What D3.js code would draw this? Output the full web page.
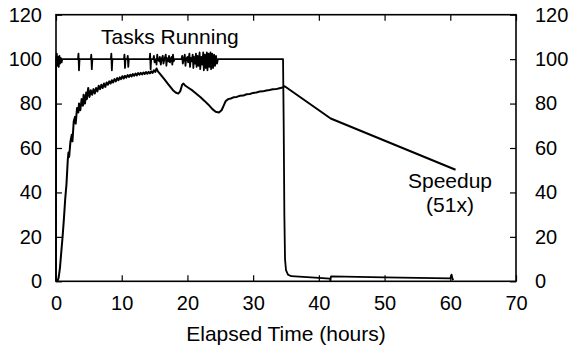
<!DOCTYPE html>
<html><head><meta charset="utf-8">
<script src="https://cdn.jsdelivr.net/npm/d3@7"></script>
<style>
body{margin:0;background:#fff;}
text{font-family:"Liberation Sans",Arial,Helvetica,sans-serif;fill:#000;}
</style></head>
<body><svg id="c" width="571" height="348"></svg>
<script>
const xTicks = [0,10,20,30,40,50,60,70];
const yTicks = [0,20,40,60,80,100,120];
const xLabel = "Elapsed Time (hours)";
const tasksLabel = "Tasks Running";
const speedupLabel = ["Speedup","(51x)"];

// Tasks running: [hours, tasks]
const tasksRunning = [
[0,0],[0.02,100],[0.12,102.5],[0.22,97],[0.32,101],[0.42,96.5],[0.52,101.5],[0.62,98],[0.75,100.5],[0.85,98.5],[0.95,100],
[3.35,100],[3.42,102.5],[3.5,95],[3.58,100],
[5.3,100],[5.37,102],[5.45,95.5],[5.53,100],
[8.35,100],[8.42,102.5],[8.5,95],[8.58,100],
[10.35,100],[10.42,102],[10.5,96],[10.58,100],[10.85,100],[10.92,101.5],[11.0,96.5],[11.08,100],
[14.25,100],[14.32,102.5],[14.4,95.5],[14.48,100],
[14.8,100],[14.9,101.5],[15.0,98.5],[15.2,100],[15.3,97.5],[15.4,102],[15.5,100],[15.7,99],[15.8,101],[15.95,97.5],[16.05,100],[16.25,101.5],[16.35,98],[16.5,100],[16.7,102],[16.8,97],[16.9,100.5],[17.1,99],[17.2,101.5],[17.35,98.5],[17.45,100],[17.6,101],[17.7,97.5],[17.8,102],[17.9,99],[18.05,100],
[19.1,100],[19.2,101.5],[19.3,98],[19.45,100],[19.6,102],[19.7,97],[19.8,100],[20.0,101],[20.1,98.5],[20.3,102.5],[20.4,96.5],[20.5,100.5],[20.65,99],[20.8,102],[20.9,96],[21.0,101],[21.15,98],[21.3,102.5],[21.4,96.5],[21.55,101.5],[21.7,97],[21.85,103],[21.95,95.5],[22.1,101],[22.25,97.5],[22.4,103],[22.5,95],[22.65,102],[22.8,96],[22.95,103],[23.05,95],[23.2,102.5],[23.35,96.5],[23.5,103],[23.6,95.5],[23.75,102.5],[23.9,96],[24.05,102],[24.2,97],[24.35,101.5],[24.5,98],[24.65,100],
[34.55,100],[34.65,70],[34.75,30],[34.85,10],[35.0,5],[35.3,3],[35.8,2.3],[40,1.5],[41.7,1.2],[41.75,0.2],[41.85,2.2],[50,1.8],[60,1.3],[60.2,3],[60.35,0.8],[60.5,1.2]
];

// Speedup: [hours, speedup]
const speedup = [
[0.2,0],[0.4,1.5],[0.6,6],[0.8,13],[1.0,20],[1.2,28],[1.4,37],[1.6,44],[1.8,55],[1.9,58],[2.0,56],[2.2,63],[2.4,66],[2.5,63],[2.7,72],[2.9,74],[3.0,71],[3.2,78],[3.4,76],[3.5,80],[3.7,77],[3.9,82],[4.1,79],[4.2,84],[4.4,80],[4.6,85],[4.7,82],[4.9,87],[5.1,83],[5.3,86],[5.5,84],[5.7,86.5],[5.9,84.5],[6.1,87],[6.3,85.5],[6.5,88],[6.7,86.5],[6.9,88.5],[7.1,87],[7.3,89],[7.5,87.5],[7.7,89.5],[7.9,88.5],[8.1,90],[8.3,89],[8.5,90.5],[8.7,89.5],[8.9,91],[9.1,90],[9.3,91.5],[9.5,90.5],[9.7,91.8],[9.9,91],[10.1,92.3],[10.3,91.3],[10.5,92.5],[10.7,91.7],[10.9,92.8],[11.1,92],[11.3,93],[11.5,92.2],[11.7,93.3],[11.9,92.5],[12.1,93.5],[12.3,92.7],[12.5,93.7],[12.7,93],[12.9,93.8],[13.1,93.1],[13.3,94],[13.5,93.3],[13.7,94.2],[13.9,93.4],[14.1,94.3],[14.3,93.6],[14.5,94.5],[14.7,93.8],[14.9,95],[15.1,94.2],[15.3,95.8],[15.5,94.5],[15.8,93.5],[16.2,92],[16.6,90.5],[17.0,89],[17.4,87.5],[17.8,86],[18.2,85],[18.6,84.5],[18.9,85.5],[19.2,88.5],[19.4,89],[19.7,88],[20.2,87],[20.8,85.8],[21.4,84.3],[22.0,82.8],[22.6,81.2],[23.2,79.5],[23.8,77.5],[24.3,76.3],[24.8,76],[25.2,77],[25.5,79],[25.8,81],[26.2,82],[26.6,82.3],[27.0,82.8],[27.5,83],[28.0,83.5],[28.5,83.6],[29.0,84.2],[29.5,84.3],[30.0,84.8],[30.5,85],[31.0,85.4],[31.5,85.5],[32.0,85.9],[32.5,86.1],[33.0,86.4],[33.5,86.5],[34.0,86.9],[34.5,87.2],[34.8,87.8],[41.8,73.3],[60.8,50.2]
];

const svg = d3.select("#c");
const L=56, R=516, T=14.7, B=281.3;
const x = d3.scaleLinear().domain([0,70]).range([L,R]);
const y = d3.scaleLinear().domain([0,120]).range([B,T]);

function styleAxis(g, hideText){
  g.select(".domain").remove();
  g.selectAll(".tick line").attr("stroke","#000").attr("stroke-width",1.2);
  g.selectAll(".tick text").style("font-size","20px").attr("fill","#000");
  if(hideText) g.selectAll(".tick text").remove();
}
svg.append("g").attr("transform",`translate(0,${B})`)
  .call(d3.axisBottom(x).tickValues(xTicks).tickSize(-6).tickPadding(15).tickFormat(d3.format("d")))
  .call(g=>styleAxis(g,false));
svg.append("g").attr("transform",`translate(0,${T})`)
  .call(d3.axisTop(x).tickValues(xTicks).tickSize(-6))
  .call(g=>styleAxis(g,true));
svg.append("g").attr("transform",`translate(${L},0)`)
  .call(d3.axisLeft(y).tickValues(yTicks).tickSize(-6).tickPadding(14).tickFormat(d3.format("d")))
  .call(g=>styleAxis(g,false));
svg.append("g").attr("transform",`translate(${R},0)`)
  .call(d3.axisRight(y).tickValues(yTicks).tickSize(-6).tickPadding(19).tickFormat(d3.format("d")))
  .call(g=>styleAxis(g,false));

svg.append("rect").attr("x",L).attr("y",T).attr("width",R-L).attr("height",B-T)
  .attr("fill","none").attr("stroke","#000").attr("stroke-width",1.6);

const line = d3.line().x(d=>x(d[0])).y(d=>y(d[1]));
svg.append("path").datum(tasksRunning).attr("d",line)
  .attr("fill","none").attr("stroke","#000").attr("stroke-width",1.8).attr("stroke-linejoin","round");
svg.append("path").datum(speedup).attr("d",line)
  .attr("fill","none").attr("stroke","#000").attr("stroke-width",2).attr("stroke-linejoin","round");

svg.append("text").attr("x",101).attr("y",44).style("font-size","21px").text(tasksLabel);
svg.append("text").attr("x",450).attr("y",188).attr("text-anchor","middle").style("font-size","21px").text(speedupLabel[0]);
svg.append("text").attr("x",450).attr("y",212).attr("text-anchor","middle").style("font-size","21px").text(speedupLabel[1]);
svg.append("text").attr("x",(L+R)/2).attr("y",340.5).attr("text-anchor","middle").style("font-size","21px").text(xLabel);
</script></body></html>
